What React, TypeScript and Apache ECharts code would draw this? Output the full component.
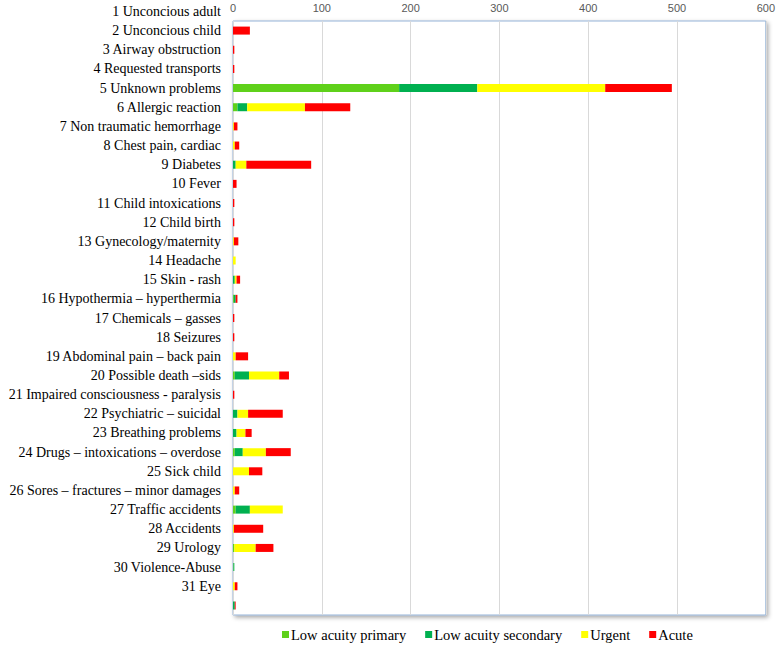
import React, { useEffect, useRef } from "react";
import * as echarts from "echarts";

const categories = [
  "1 Unconcious adult",
  "2 Unconcious child",
  "3 Airway obstruction",
  "4 Requested transports",
  "5 Unknown problems",
  "6 Allergic reaction",
  "7 Non traumatic hemorrhage",
  "8 Chest pain, cardiac",
  "9 Diabetes",
  "10 Fever",
  "11 Child intoxications",
  "12 Child birth",
  "13 Gynecology/maternity",
  "14 Headache",
  "15 Skin - rash",
  "16 Hypothermia \u2013 hyperthermia",
  "17 Chemicals \u2013 gasses",
  "18 Seizures",
  "19 Abdominal pain \u2013 back pain",
  "20 Possible death \u2013sids",
  "21 Impaired consciousness - paralysis",
  "22 Psychiatric \u2013 suicidal",
  "23 Breathing problems",
  "24 Drugs \u2013 intoxications \u2013 overdose",
  "25 Sick child",
  "26 Sores \u2013 fractures \u2013 minor damages",
  "27 Traffic accidents",
  "28 Accidents",
  "29 Urology",
  "30 Violence-Abuse",
  "31 Eye",
  "",
];

const lowAcuityPrimary = [0, 0, 0, 0, 187, 5, 0, 0, 0, 0, 0, 0, 0, 0, 0, 1, 0, 0, 0, 2, 0, 0, 0, 2, 0, 0, 3, 0, 1.5, 0.5, 0, 0];
const lowAcuitySecondary = [0, 0, 0, 0, 88, 11, 0, 0, 3, 0, 0, 0, 0, 0, 2, 2, 0, 0, 0, 16, 0, 5, 4, 9, 0, 0, 16, 0, 0, 1, 0, 2];
const urgent = [0, 0, 0, 0, 144, 65, 1, 2, 12, 0, 0, 0, 1, 3, 2, 0, 0, 0, 3, 34, 0, 12, 10, 26, 18, 2, 37, 1, 24, 0, 2, 0];
const acute = [0, 19, 1.5, 1.5, 75, 51, 4, 5, 73, 4, 1.5, 1.5, 5, 0, 4, 2, 1.5, 1.5, 14, 11, 1.5, 39, 7, 28, 15, 5, 0, 33, 20, 0, 3, 1];

const xTicks = { min: 0, max: 600, interval: 100 };

const seriesDefs = [
  { name: "Low acuity primary", data: lowAcuityPrimary, color: "#5fd11a" },
  { name: "Low acuity secondary", data: lowAcuitySecondary, color: "#00b050" },
  { name: "Urgent", data: urgent, color: "#ffff00" },
  { name: "Acute", data: acute, color: "#ff0000" },
];

export default function App() {
  const ref = useRef<HTMLDivElement>(null);
  useEffect(() => {
    if (!ref.current) return;
    const chart = echarts.init(ref.current, null, { renderer: "svg" });
    const plotTop = 21;
    const plotBottom = 615;
    const band = (plotBottom - plotTop) / (categories.length - 1);
    const labelTop = plotTop - band;
    const option: any = {
      animation: false,
      backgroundColor: "#ffffff",
      grid: [
        {
          left: 233,
          right: 12,
          top: plotTop,
          height: plotBottom - plotTop,
          show: true,
          backgroundColor: "#ffffff",
          borderColor: "#95b3d7",
          borderWidth: 1,
          shadowBlur: 4,
          shadowColor: "rgba(0,0,0,0.35)",
          shadowOffsetX: 2,
          shadowOffsetY: 2,
        },
        {
          left: 233,
          right: 12,
          top: labelTop,
          height: plotBottom - labelTop,
        },
      ],
      xAxis: [
        {
          gridIndex: 0,
          type: "value",
          position: "top",
          min: xTicks.min,
          max: xTicks.max,
          interval: xTicks.interval,
          axisLine: { show: false },
          axisTick: { show: false },
          axisLabel: {
            color: "#595959",
            fontFamily: "Liberation Sans",
            fontSize: 11,
            margin: 8,
          },
          splitLine: { show: true, lineStyle: { color: "#d9d9d9", width: 1 } },
        },
        {
          gridIndex: 1,
          type: "value",
          min: xTicks.min,
          max: xTicks.max,
          show: false,
        },
      ],
      yAxis: [
        {
          gridIndex: 0,
          type: "category",
          data: categories.slice(1),
          inverse: true,
          show: false,
        },
        {
          gridIndex: 1,
          type: "category",
          data: categories,
          inverse: true,
          axisLine: { show: false },
          axisTick: { show: false },
          splitLine: { show: false },
          axisLabel: {
            color: "#000000",
            fontFamily: "Liberation Serif",
            fontSize: 14,
            margin: 12,
            interval: 0,
          },
        },
      ],
      legend: {
        left: 282,
        top: 627,
        padding: 0,
        itemWidth: 7,
        itemHeight: 7,
        itemGap: 19,
        icon: "rect",
        textStyle: {
          fontFamily: "Liberation Serif",
          fontSize: 14.5,
          color: "#000000",
          padding: [0, 0, 0, -3],
        },
        data: seriesDefs.map((s) => s.name),
      },
      series: seriesDefs.map((s) => ({
        name: s.name,
        type: "bar",
        stack: "total",
        xAxisIndex: 1,
        yAxisIndex: 1,
        barWidth: 8,
        itemStyle: { color: s.color },
        data: s.data,
      })),
    };
    chart.setOption(option);
    return () => chart.dispose();
  }, []);
  return (
    <div
      ref={ref}
      style={{ position: "fixed", left: 0, top: 0, width: 778, height: 647 }}
    />
  );
}
